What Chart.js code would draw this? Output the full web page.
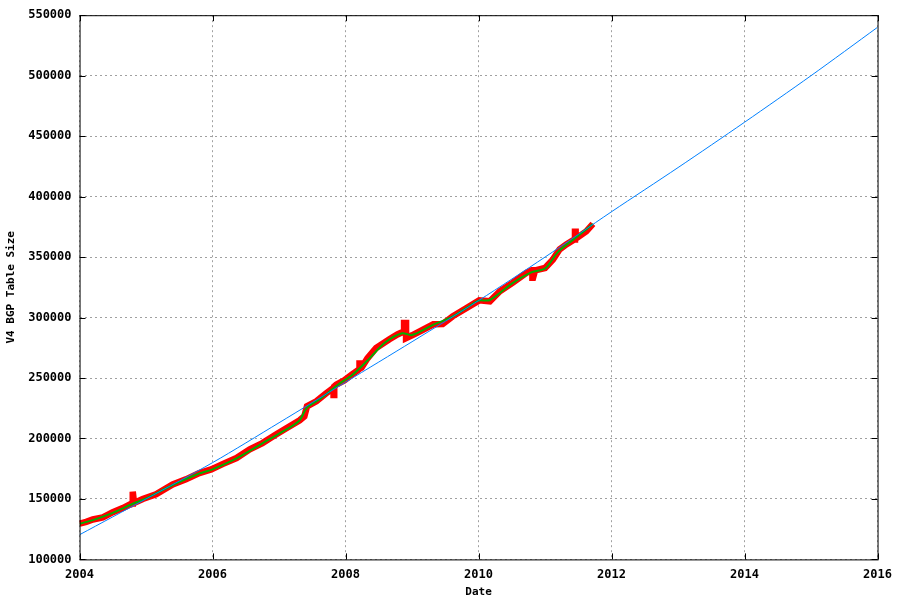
<!DOCTYPE html>
<html>
<head>
<meta charset="utf-8">
<script src="https://cdn.jsdelivr.net/npm/chart.js@4"></script>
<style>
  body { margin: 0; background: #fff; }
  #wrap { width: 900px; height: 600px; position: relative; }
</style>
</head>
<body>
<div id="wrap"><canvas id="bgpChart"></canvas></div>
<script>
// raw table size samples (decimal year, prefixes); the short spikes are
// given as up-and-back pairs so they come out as bars
const rawYears = [2004.00, 2004.10, 2004.20, 2004.35, 2004.50, 2004.65, 2004.78, 2004.79, 2004.80, 2004.80, 2004.82, 2004.95,
    2005.15, 2005.40, 2005.60, 2005.80, 2005.98, 2006.15, 2006.36, 2006.56, 2006.75, 2006.96,
    2007.11, 2007.31, 2007.38, 2007.42, 2007.56, 2007.70, 2007.82, 2007.82, 2007.83, 2007.83, 2007.86, 2007.98,
    2008.10, 2008.20, 2008.21, 2008.21, 2008.22, 2008.22, 2008.24, 2008.33, 2008.46, 2008.66, 2008.78, 2008.86, 2008.88,
    2008.88, 2008.91, 2008.91, 2009.00, 2009.15, 2009.32, 2009.46, 2009.61, 2009.82, 2010.01, 2010.17, 2010.32,
    2010.51, 2010.72, 2010.80, 2010.81, 2010.81, 2010.82, 2010.85, 2011.00, 2011.12, 2011.22, 2011.32, 2011.44,
    2011.45, 2011.45, 2011.46, 2011.46, 2011.47, 2011.62, 2011.72];
const rawSize = [129500, 131000, 133000, 134700, 139000, 142400, 146000, 146300, 156000, 156000, 146600, 149900,
    153800, 162000, 166200, 171400, 174400, 178800, 183800, 191000, 196200, 203400,
    208400, 215000, 218300, 226600, 230700, 237000, 242000, 236000, 236000, 243000, 244500, 248000,
    253000, 257000, 257500, 262000, 262000, 258000, 258500, 266300, 274800, 282000, 286000, 288000, 289000,
    295500, 295500, 283000, 285300, 289500, 294400, 294600, 301000, 307900, 314200, 313400, 321700,
    328600, 336900, 339000, 339000, 333000, 333000, 339000, 341000, 348100, 356400, 360500, 364500,
    365000, 371000, 371000, 365500, 365500, 371300, 377400];

// smoothed curve
const smoothYears = [2004.00, 2004.20, 2004.50, 2004.80, 2005.00, 2005.40, 2005.80, 2006.00, 2006.36, 2006.75,
    2007.00, 2007.30, 2007.42, 2007.60, 2007.90, 2008.10, 2008.33, 2008.60, 2008.85, 2009.00,
    2009.30, 2009.60, 2009.82, 2010.00, 2010.17, 2010.50, 2010.80, 2011.00, 2011.20, 2011.45,
    2011.72];
const smoothSize = [129500, 132500, 138500, 146000, 150500, 161500, 171000, 174500, 183500, 196000,
    204000, 214500, 225500, 232000, 245000, 252500, 264500, 279500, 287000, 285500,
    293500, 300500, 308000, 314000, 314500, 328000, 337500, 340500, 354500, 365500,
    377400];

// fitted trend
const trendYears = [2004, 2005, 2006, 2007, 2008, 2009, 2010, 2011, 2012, 2013, 2014, 2015, 2016];
const trendSize = [120400, 150000, 180000, 213000, 246500, 280000, 314000, 350000, 387500, 424000, 461500, 500000, 540000];

const toXY = (xs, ys) => xs.map((x, i) => ({ x: x, y: ys[i] }));

const monoFont = { family: "'DejaVu Sans Mono', 'Liberation Mono', monospace", size: 12, weight: 'bold' };
const titleFont = { family: "'DejaVu Sans Mono', 'Liberation Mono', monospace", size: 11, weight: 'bold' };

// black frame and inward tick marks round the plot area, like gnuplot
const framePlugin = {
    id: 'frame',
    afterDraw(chart) {
        const a = chart.chartArea;
        const c = chart.ctx;
        const xs = chart.scales.x, ys = chart.scales.y;
        c.save();
        c.strokeStyle = '#000';
        c.lineWidth = 1;
        c.strokeRect(a.left + 0.5, a.top + 0.5, a.right - a.left, a.bottom - a.top);
        c.beginPath();
        xs.ticks.forEach(t => {
            const px = Math.round(xs.getPixelForValue(t.value)) + 0.5;
            c.moveTo(px, a.bottom); c.lineTo(px, a.bottom - 6);
            c.moveTo(px, a.top); c.lineTo(px, a.top + 6);
        });
        ys.ticks.forEach(t => {
            const py = Math.round(ys.getPixelForValue(t.value)) + 0.5;
            c.moveTo(a.left, py); c.lineTo(a.left + 6, py);
            c.moveTo(a.right, py); c.lineTo(a.right - 6, py);
        });
        c.stroke();
        c.restore();
    }
};

new Chart(document.getElementById('bgpChart').getContext('2d'), {
    type: 'line',
    data: {
        datasets: [{
            label: 'trend',
            data: toXY(trendYears, trendSize),
            borderColor: '#0080ff',
            borderWidth: 1,
            pointRadius: 0,
            tension: 0.3,
            order: 0
        }, {
            label: 'smoothed',
            data: toXY(smoothYears, smoothSize),
            borderColor: '#00b000',
            borderWidth: 2,
            pointRadius: 0,
            tension: 0.3,
            order: 1
        }, {
            label: 'raw',
            data: toXY(rawYears, rawSize),
            borderColor: '#ff0000',
            borderWidth: 6.5,
            borderJoinStyle: 'miter',
            pointRadius: 0,
            tension: 0,
            order: 2
        }]
    },
    options: {
        responsive: true,
        maintainAspectRatio: false,
        animation: false,
        layout: { padding: { top: 6, right: 15, left: 3, bottom: 1 } },
        plugins: {
            legend: { display: false },
            tooltip: { enabled: false }
        },
        scales: {
            x: {
                type: 'linear',
                min: 2004,
                max: 2016,
                ticks: {
                    stepSize: 2,
                    color: '#000',
                    font: monoFont,
                    maxRotation: 0,
                    padding: 8,
                    callback: v => String(v)
                },
                grid: { color: '#a0a0a0', drawTicks: false },
                border: { display: false, dash: [2, 3] },
                title: { display: true, text: 'Date', color: '#000', font: titleFont, padding: { top: -4, bottom: 0 } }
            },
            y: {
                min: 100000,
                max: 550000,
                ticks: {
                    stepSize: 50000,
                    color: '#000',
                    font: monoFont,
                    padding: 8,
                    callback: v => String(v)
                },
                grid: { color: '#a0a0a0', drawTicks: false },
                border: { display: false, dash: [2, 3] },
                title: { display: true, text: 'V4 BGP Table Size', color: '#000', font: titleFont, padding: 2 }
            }
        }
    },
    plugins: [framePlugin]
});
</script>
</body>
</html>
